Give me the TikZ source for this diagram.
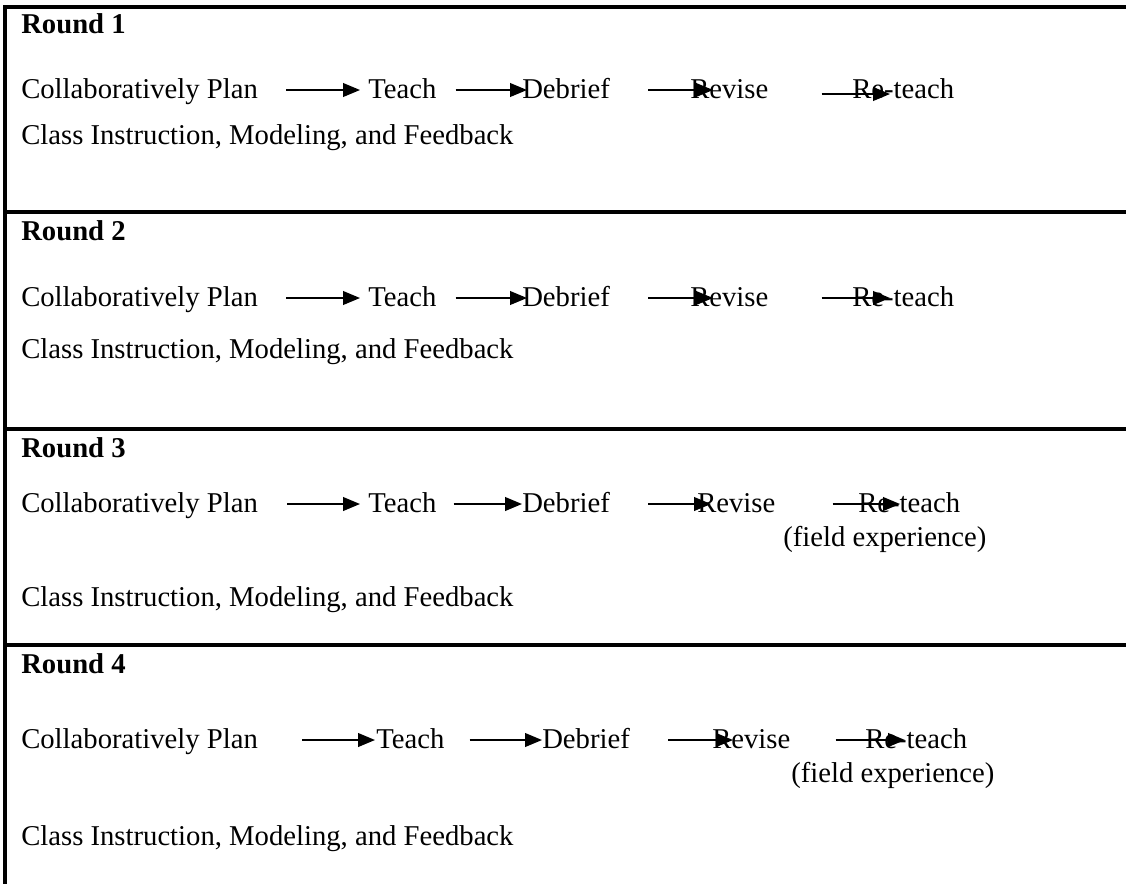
\documentclass[tikz,border=0pt]{standalone}
\usepackage{fontspec}
\setmainfont{Liberation Serif}
\usetikzlibrary{arrows.meta,calc}

\begin{document}
\begin{tikzpicture}[
    every node/.style={font=\fontsize{20.4}{24}\selectfont},
    txt/.style={anchor=base west, inner sep=0pt},
    head/.style={txt, font=\fontsize{20.4}{24}\selectfont\bfseries},
    flow/.style={-{Triangle[length=4.2mm, width=3.4mm]}, line width=1.2pt},
    frame/.style={line width=2.4pt}
]
\useasboundingbox (0,0) rectangle (28.15,-22.1);

% Table frame
\draw[frame] (28.15,-0.175) -- (0.125,-0.175) -- (0.125,-22.1);
\draw[frame] (0.125,-5.3) -- (28.15,-5.3);
\draw[frame] (0.125,-10.725) -- (28.15,-10.725);
\draw[frame] (0.125,-16.125) -- (28.15,-16.125);

% Round 1
\node[head] (round1) at (0.525,-0.825) {Round 1};
\node[txt] (plan1) at (0.525,-2.45) {Collaboratively Plan};
\node[txt] (teach1) at (9.2,-2.45) {Teach};
\node[txt] (debrief1) at (13.05,-2.45) {Debrief};
\node[txt] (revise1) at (17.25,-2.45) {Revise};
\node[txt] (reteach1) at (21.3,-2.45) {Re-teach};
\node[txt] (class1) at (0.525,-3.6) {Class Instruction, Modeling, and Feedback};
\draw[flow] ([shift={(0.7,0.2)}]plan1.base east) -- ([shift={(-0.2,0.2)}]teach1.base west);
\draw[flow] ([shift={(0.475,0.2)}]teach1.base east) -- ([shift={(0.125,0.2)}]debrief1.base west);
\draw[flow] ([shift={(0.95,0.2)}]debrief1.base east) -- ([shift={(0.575,0.2)}]revise1.base west);
\draw[flow] ([shift={(1.325,0.1)}]revise1.base east) -- ([shift={(0.95,0.1)}]reteach1.base west);

% Round 2
\node[head] (round2) at (0.525,-6.0) {Round 2};
\node[txt] (plan2) at (0.525,-7.65) {Collaboratively Plan};
\node[txt] (teach2) at (9.2,-7.65) {Teach};
\node[txt] (debrief2) at (13.05,-7.65) {Debrief};
\node[txt] (revise2) at (17.25,-7.65) {Revise};
\node[txt] (reteach2) at (21.3,-7.65) {Re-teach};
\node[txt] (class2) at (0.525,-8.95) {Class Instruction, Modeling, and Feedback};
\draw[flow] ([shift={(0.7,0.2)}]plan2.base east) -- ([shift={(-0.2,0.2)}]teach2.base west);
\draw[flow] ([shift={(0.475,0.2)}]teach2.base east) -- ([shift={(0.125,0.2)}]debrief2.base west);
\draw[flow] ([shift={(0.95,0.2)}]debrief2.base east) -- ([shift={(0.575,0.2)}]revise2.base west);
\draw[flow] ([shift={(1.325,0.2)}]revise2.base east) -- ([shift={(0.95,0.2)}]reteach2.base west);

% Round 3
\node[head] (round3) at (0.525,-11.425) {Round 3};
\node[txt] (plan3) at (0.525,-12.8) {Collaboratively Plan};
\node[txt] (teach3) at (9.2,-12.8) {Teach};
\node[txt] (debrief3) at (13.05,-12.8) {Debrief};
\node[txt] (revise3) at (17.425,-12.8) {Revise};
\node[txt] (reteach3) at (21.45,-12.8) {Re-teach};
\node[txt] (field3) at (19.575,-13.65) {(field experience)};
\node[txt] (class3) at (0.525,-15.15) {Class Instruction, Modeling, and Feedback};
\draw[flow] ([shift={(0.725,0.2)}]plan3.base east) -- ([shift={(-0.2,0.2)}]teach3.base west);
\draw[flow] ([shift={(0.425,0.2)}]teach3.base east) -- ([shift={(0,0.2)}]debrief3.base west);
\draw[flow] ([shift={(0.95,0.2)}]debrief3.base east) -- ([shift={(0.35,0.2)}]revise3.base west);
\draw[flow] ([shift={(1.425,0.2)}]revise3.base east) -- ([shift={(1.05,0.2)}]reteach3.base west);

% Round 4
\node[head] (round4) at (0.525,-16.825) {Round 4};
\node[txt] (plan4) at (0.525,-18.7) {Collaboratively Plan};
\node[txt] (teach4) at (9.4,-18.7) {Teach};
\node[txt] (debrief4) at (13.55,-18.7) {Debrief};
\node[txt] (revise4) at (17.8,-18.7) {Revise};
\node[txt] (reteach4) at (21.625,-18.7) {Re-teach};
\node[txt] (field4) at (19.775,-19.55) {(field experience)};
\node[txt] (class4) at (0.525,-21.125) {Class Instruction, Modeling, and Feedback};
\draw[flow] ([shift={(1.1,0.2)}]plan4.base east) -- ([shift={(-0.025,0.2)}]teach4.base west);
\draw[flow] ([shift={(0.625,0.2)}]teach4.base east) -- ([shift={(0,0.2)}]debrief4.base west);
\draw[flow] ([shift={(0.95,0.2)}]debrief4.base east) -- ([shift={(0.525,0.2)}]revise4.base west);
\draw[flow] ([shift={(1.125,0.2)}]revise4.base east) -- ([shift={(1.0,0.2)}]reteach4.base west);

\end{tikzpicture}
\end{document}
